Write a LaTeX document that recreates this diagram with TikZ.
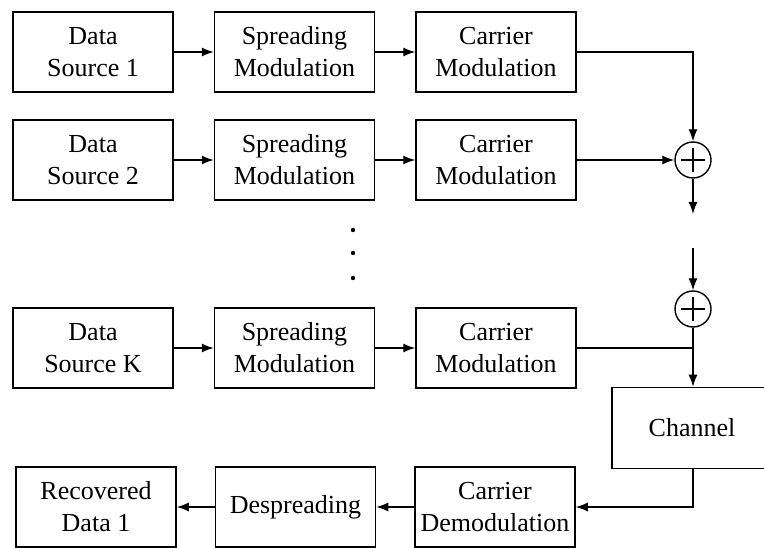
\documentclass[tikz,border=0pt]{standalone}
\usepackage{fontspec}
\setmainfont{Liberation Serif}
\usepackage{tikz}
\usetikzlibrary{positioning}
\usetikzlibrary{arrows.meta,calc}
\tikzstyle{block} = [rectangle, draw=black, line width=1.5pt, minimum width=160pt, minimum height=80pt, align=center, inner sep=2pt, font=\fontsize{26}{32}\selectfont]
\tikzstyle{adder} = [circle, draw=black, line width=1.4pt, minimum size=36pt, inner sep=0pt]
\tikzstyle{arrow} = [line width=1.3pt,-{Latex[length=12pt,width=9pt]}]
\tikzstyle{line} = [line width=1.3pt]

\begin{document}
\begin{tikzpicture}[x=1pt,y=1pt]
		\useasboundingbox (0,0) rectangle (764,-548);
		\node[block] (src1) at (93,-52) {Data\\Source 1};
		\node[block,right=40pt of src1] (spr1) {Spreading\\Modulation};
		\node[block,right=40pt of spr1] (car1) {Carrier\\Modulation};
		\node[block] (src2) at (93,-160) {Data\\Source 2};
		\node[block,right=40pt of src2] (spr2) {Spreading\\Modulation};
		\node[block,right=40pt of spr2] (car2) {Carrier\\Modulation};
		\node[block] (srcK) at (93,-348) {Data\\Source K};
		\node[block,right=40pt of srcK] (sprK) {Spreading\\Modulation};
		\node[block,right=40pt of sprK] (carK) {Carrier\\Modulation};
		\node[adder] (sum1) at (693,-160) {};
		\node[adder] (sum2) at (693,-309) {};
		\coordinate (out1) at (693,-214);
		\coordinate (in2) at (693,-248);
		\node[block,minimum height=81pt] (chan) at (692,-428) {Channel};
		\node[block] (demod) at (495,-507) {Carrier\\Demodulation};
		\node[block,left=38pt of demod] (desp) {Despreading};
		\node[block,left=38pt of desp] (rec) {Recovered\\Data 1};
		% plus signs
		\foreach \s in {sum1,sum2}
			\draw[line] ($(\s)+(-12,0)$) -- ($(\s)+(12,0)$) ($(\s)+(0,-12)$) -- ($(\s)+(0,12)$);
		% dots
		\foreach \y in {-230,-253,-278}
			\fill (353,\y) circle (2.2pt);
		\draw[arrow] (src1) -- (spr1);
		\draw[arrow] (spr1) -- (car1);
		\draw[arrow] (src2) -- (spr2);
		\draw[arrow] (spr2) -- (car2);
		\draw[arrow] (srcK) -- (sprK);
		\draw[arrow] (sprK) -- (carK);
		\draw[arrow] (car1.east) -| (sum1.north);
		\draw[arrow] (car2.east) -- (sum1.west);
		\draw[arrow] (sum1.south) -- (out1);
		\draw[arrow] (in2) -- (sum2.north);
		\draw[line] (carK.east) -- (sum2 |- carK);
		\draw[arrow] (sum2.south) -- (sum2 |- chan.north);
		\draw[arrow] (sum2 |- chan.south) |- (demod.east);
		\draw[arrow] (demod) -- (desp);
		\draw[arrow] (desp) -- (rec);
	\end{tikzpicture}
\end{document}
